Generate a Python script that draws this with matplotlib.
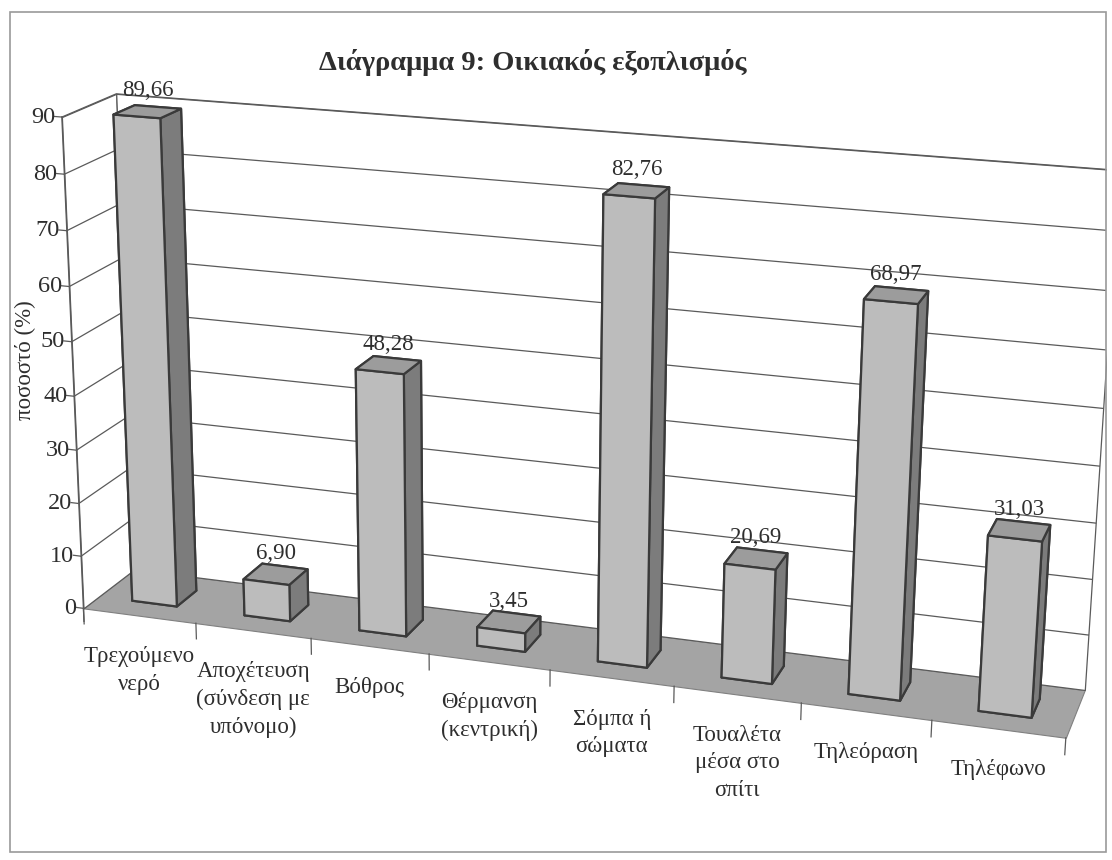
import numpy as np
import matplotlib
matplotlib.use("Agg")
import matplotlib.pyplot as plt
from mpl_toolkits.mplot3d import proj3d
from mpl_toolkits.mplot3d.art3d import Poly3DCollection

plt.rcParams['font.family'] = ['Liberation Serif', 'DejaVu Serif']

# --- data -------------------------------------------------------------
title = "Διάγραμμα 9: Οικιακός εξοπλισμός"
ylabel = "ποσοστό (%)"
categories = [
    "Τρεχούμενο\nνερό",
    "Αποχέτευση\n(σύνδεση με\nυπόνομο)",
    "Βόθρος",
    "Θέρμανση\n(κεντρική)",
    "Σόμπα ή\nσώματα",
    "Τουαλέτα\nμέσα στο\nσπίτι",
    "Τηλεόραση",
    "Τηλέφωνο",
]
values = [89.66, 6.90, 48.28, 3.45, 82.76, 20.69, 68.97, 31.03]
zticks = [0, 10, 20, 30, 40, 50, 60, 70, 80, 90]

# --- styling ----------------------------------------------------------
text_color = "#2e2e2e"
floor_color = "#a4a4a4"
wall_color = "white"
grid_color = "#5a5a5a"
front_color = "#bcbcbc"
side_color = "#7c7c7c"
top_color = "#9c9c9c"
edge_color = "#3a3a3a"

n = len(values)
x0, x1 = -0.5, n - 0.5
y0, y1 = 0.0, 1.0
z0, z1 = zticks[0], zticks[-1]

W, H = 1112, 860
fig = plt.figure(figsize=(W / 100, H / 100), dpi=100)
fig.patch.set_facecolor("white")

# square 3D drawing area centred on the plot box
side, cx, cy = 1100, 556, 417
ax = fig.add_axes([(cx - side / 2) / W, (H - cy - side / 2) / H,
                   side / W, side / H], projection="3d")
ax.computed_zorder = False
ax.set_axis_off()
ax.set_xlim(x0, x1)
ax.set_ylim(y0, y1)
ax.set_zlim(z0, z1)
ax.set_box_aspect((1031, 122, 525), zoom=1.035)
ax.view_init(elev=17.5, azim=-72.4, roll=-0.5)
ax.set_proj_type("persp", focal_length=0.5)
M = ax.get_proj()


def screen(x, y, z):
    """Projected 2D data coordinates of a 3D point."""
    px, py, _ = proj3d.proj_transform(x, y, z, M)
    return float(px), float(py)


def label(x, y, z, s, dx, dy, **kw):
    ax.annotate(s, xy=screen(x, y, z), xycoords="data", xytext=(dx, dy),
                textcoords="offset points", color=text_color,
                annotation_clip=False, zorder=4, **kw)


# floor and walls
floor = [[(x0, y0, z0), (x1, y0, z0), (x1, y1, z0), (x0, y1, z0)]]
ax.add_collection3d(Poly3DCollection(floor, facecolor=floor_color,
                                     edgecolor="#808080", linewidth=0.8,
                                     zorder=1))
left_wall = [[(x0, y0, z0), (x0, y1, z0), (x0, y1, z1), (x0, y0, z1)]]
back_wall = [[(x0, y1, z0), (x1, y1, z0), (x1, y1, z1), (x0, y1, z1)]]
for wall in (left_wall, back_wall):
    ax.add_collection3d(Poly3DCollection(wall, facecolor=wall_color,
                                         edgecolor=grid_color, linewidth=0.9,
                                         zorder=1))

# horizontal gridlines on both walls
for z in zticks[1:]:
    ax.plot([x0, x0, x1], [y0, y1, y1], [z, z, z], color=grid_color,
            lw=0.9, zorder=2)

# value axis line, tick marks and labels
ax.plot([x0, x0], [y0, y0], [z0 - 2.5, z1], color=grid_color, lw=1.0, zorder=2)
for z in zticks:
    ax.plot([x0, x0 - 0.07], [y0, y0], [z, z], color=grid_color, lw=0.9,
            zorder=2)
    label(x0, y0, z, f"{z}", -5, 0, ha="right", va="center", fontsize=17.5)

# category tick marks along the front edge of the floor
for b in np.arange(x0, x1 + 0.01, 1.0):
    ax.plot([b, b], [y0, y0], [z0, z0 - 3], color=grid_color, lw=0.9, zorder=2)

# bars
xs = np.arange(n)
bw, bd = 0.4, 0.4
face_colors = []
for _ in values:
    # bottom, top, front, back, left, right
    face_colors += [side_color, top_color, front_color, side_color,
                    side_color, side_color]
ax.bar3d(xs - bw / 2, np.full(n, 0.5 - bd / 2), np.zeros(n), bw, bd, values,
         color=face_colors, edgecolor=edge_color, linewidth=1.6, shade=False,
         zorder=3)

# value labels
for x, v in zip(xs, values):
    label(x, 0.5, v, f"{v:.2f}".replace(".", ","), 0, 11,
          ha="center", va="baseline", fontsize=16.5)

# category labels
for x, lab in zip(xs, categories):
    label(x, y0, z0, lab, 0, -22, ha="center", va="top", fontsize=16.5,
          linespacing=1.4)

fig.text(25 / W, 1 - 360 / H, ylabel, rotation=90, ha="center",
         va="center", fontsize=16.5, color=text_color)
fig.text(533 / W, 1 - 63 / H, title, ha="center", va="center",
         fontsize=20.5, fontweight="bold", color=text_color)

# chart border
fig.add_artist(plt.Rectangle((10 / W, 8 / H), 1096 / W, 840 / H,
                             transform=fig.transFigure, fill=False,
                             edgecolor="#9a9a9a", lw=1.2))

fig.savefig("out.png", dpi=100)
